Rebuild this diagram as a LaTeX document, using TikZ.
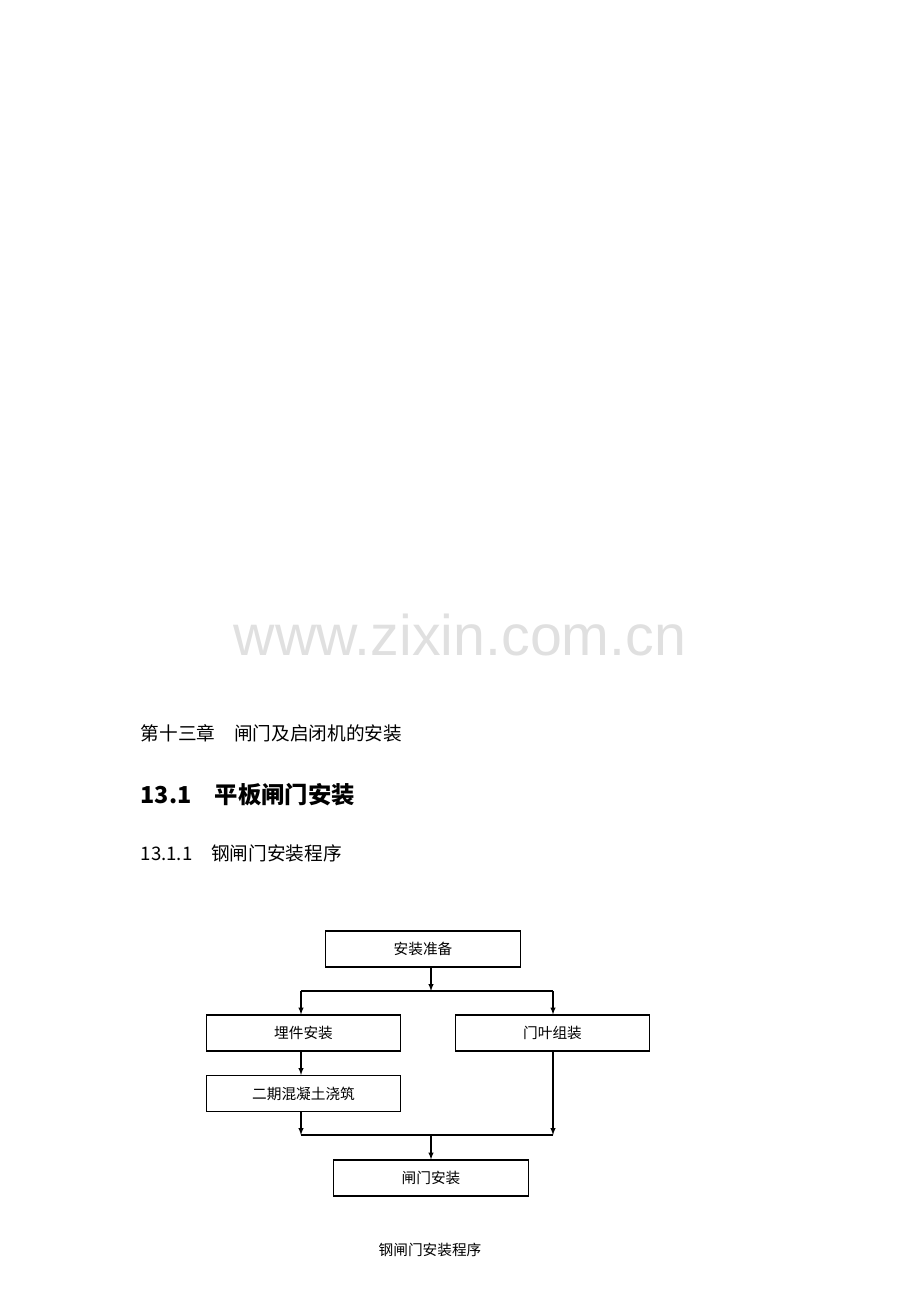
\documentclass[tikz,border=0pt]{standalone}
\usepackage{fontspec}
\newfontfamily\cjk{Noto Sans CJK SC}
\setmainfont{Liberation Sans}
\usetikzlibrary{positioning}

\begin{document}
\begin{tikzpicture}[x=0.75pt, y=-0.75pt,
    stepbox/.style={draw, thick, minimum width=146pt, minimum height=27pt, inner sep=0pt, font=\cjk\fontsize{11}{13}\selectfont},
    flow/.style={thick, -latex},
    line/.style={thick}]
    % page frame
    \useasboundingbox (0,0) rectangle (920,1302);

    % headings
    \node[text=black!12, font=\fontsize{43}{45}\selectfont] (wm) at (460,635) {www.zixin.com.cn};
    \node[anchor=west, font=\cjk\fontsize{14}{16}\selectfont] (chap) at (136,733) {第十三章\quad 闸门及启闭机的安装};
    \node[anchor=west, font=\cjk\bfseries\fontsize{17.5}{19}\selectfont] (sec) at (136,795) {13.1\quad 平板闸门安装};
    \node[anchor=west, font=\cjk\fontsize{14}{16}\selectfont] (sub) at (136,853) {13.1.1\quad 钢闸门安装程序};

    % boxes
    \node[stepbox] (prep) at (423,949) {安装准备};
    \node[stepbox] (embed) at (303.5,1033) {埋件安装};
    \node[stepbox] (leaf) at (552.5,1033) {门叶组装};
    \node[stepbox] (pour) at (303.5,1093.5) {二期混凝土浇筑};
    \node[stepbox] (gate) at (431,1178) {闸门安装};
    \node[font=\cjk\fontsize{11}{13}\selectfont] (cap) at (430,1250) {钢闸门安装程序};

    % junction points
    \coordinate (s0) at (431,967);
    \coordinate (s1) at (431,991);
    \coordinate (sl) at (301,991);
    \coordinate (sr) at (553,991);
    \coordinate (j0) at (301,1135);
    \coordinate (j1) at (431,1135);
    \coordinate (jr) at (553,1135);

    % connectors
    \draw[flow] (s0) -- (s1);
    \draw[line] (sl) -- (sr);
    \draw[flow] (sl) -- (sl |- embed.north);
    \draw[flow] (sr) -- (sr |- leaf.north);
    \draw[flow] (embed.south -| sl) -- (sl |- pour.north);
    \draw[flow] (pour.south -| sl) -- (j0);
    \draw[flow] (leaf.south -| sr) -- (jr);
    \draw[line] (j0) -- (jr);
    \draw[flow] (j1) -- (gate.north -| j1);
\end{tikzpicture}
\end{document}
